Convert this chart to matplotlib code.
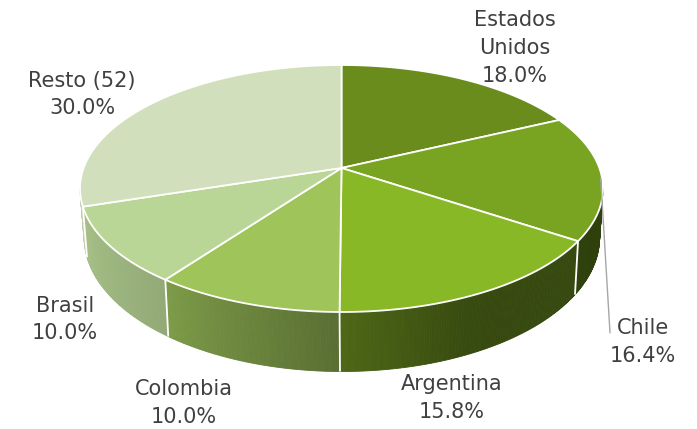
import numpy as np
import matplotlib
matplotlib.use('Agg')
import matplotlib.pyplot as plt
from matplotlib.patches import Polygon

# ---- data ----
categories = ['Estados\nUnidos', 'Chile', 'Argentina', 'Colombia', 'Brasil', 'Resto (52)']
values = [18.0, 16.4, 15.8, 10.0, 10.0, 30.0]
top_colors = ['#6a8c1c', '#78a422', '#89b826', '#9ec45a', '#b9d696', '#d1dfbc']

# label anchor (center x, baseline y of first line) in pixel coords
label_pos = [(515, 26.5), (643, 334), (452, 390), (184, 395), (65, 311.5), (82, 86.5)]
LINE = 27.8

W, H = 697, 429
fig = plt.figure(figsize=(W / 100, H / 100), dpi=100)
ax = fig.add_axes([0, 0, 1, 1])
ax.set_xlim(0, W)
ax.set_ylim(H, 0)
ax.axis('off')

B = 0.166  # perspective shift
TOP = dict(cx=341.5, cy=188.5, a=261.5, b=123.5)
BOT = dict(cx=341.9, cy=237.5, a=257.7, b=134.0)


def proj(theta_deg, e):
    t = np.radians(theta_deg)
    c, s = np.cos(t), np.sin(t)
    xp = c * np.sqrt(1 - B * B) / (1 + B * s)
    yp = (s + B) / (1 + B * s)
    return e['cx'] + e['a'] * xp, e['cy'] - e['b'] * yp


center = (TOP['cx'], TOP['cy'] - TOP['b'] * B)

total = sum(values)
bounds = [90.0]
for v in values:
    bounds.append(bounds[-1] - 360.0 * v / total)

front_hi = -np.degrees(np.arcsin(B))
front_lo = -180.0 + np.degrees(np.arcsin(B))


def shade(theta):
    return np.interp(theta, [-171, -126, -90, -65, -10], [0.93, 0.79, 0.56, 0.40, 0.39])


def rgb(hexc):
    hexc = hexc.lstrip('#')
    return np.array([int(hexc[i:i + 2], 16) / 255 for i in (0, 2, 4)])


# walls
for i, col in enumerate(top_colors):
    a1, a2 = bounds[i], bounds[i + 1]
    # handle wrap: map angles to range so front range lies in (-180, 0)
    lo = max(a2, front_lo)
    hi = min(a1, front_hi)
    if hi <= lo:
        continue
    n = max(int((hi - lo) / 0.5), 1)
    ts = np.linspace(hi, lo, n + 1)
    base = rgb(col)
    for k in range(n):
        t0, t1 = ts[k], ts[k + 1]
        tt = np.linspace(t0, t1, 4)
        xt, yt = proj(tt, TOP)
        xb, yb = proj(tt[::-1], BOT)
        pts = np.column_stack([np.concatenate([xt, xb]), np.concatenate([yt, yb])])
        c = np.clip(base * shade((t0 + t1) / 2), 0, 1)
        ax.add_patch(Polygon(pts, closed=True, facecolor=c, edgecolor=c, lw=0.6))

# wall boundary lines
for bnd in bounds[1:-1]:
    if front_lo < bnd < front_hi:
        x1, y1 = proj(bnd, TOP)
        x2, y2 = proj(bnd, BOT)
        ax.plot([x1, x2], [y1, y2], color='white', lw=1.3, solid_capstyle='butt')

# top faces
for i, col in enumerate(top_colors):
    a1, a2 = bounds[i], bounds[i + 1]
    tt = np.linspace(a1, a2, 200)
    xt, yt = proj(tt, TOP)
    pts = np.vstack([[center], np.column_stack([xt, yt])])
    ax.add_patch(Polygon(pts, closed=True, facecolor=col, edgecolor='white', lw=1.3,
                         joinstyle='round'))

# leader line for Chile
ax.plot([600.7, 610], [178.3, 332.7], color='#a6a6a6', lw=1.0)

# labels
for (x, y), cat, v in zip(label_pos, categories, values):
    lines = cat.split('\n') + [f'{v:.1f}%']
    for j, ln in enumerate(lines):
        ax.text(x, y + j * LINE, ln, ha='center', va='baseline', fontsize=15,
                color='#404040', family='DejaVu Sans')

fig.savefig('out.png', dpi=100)
